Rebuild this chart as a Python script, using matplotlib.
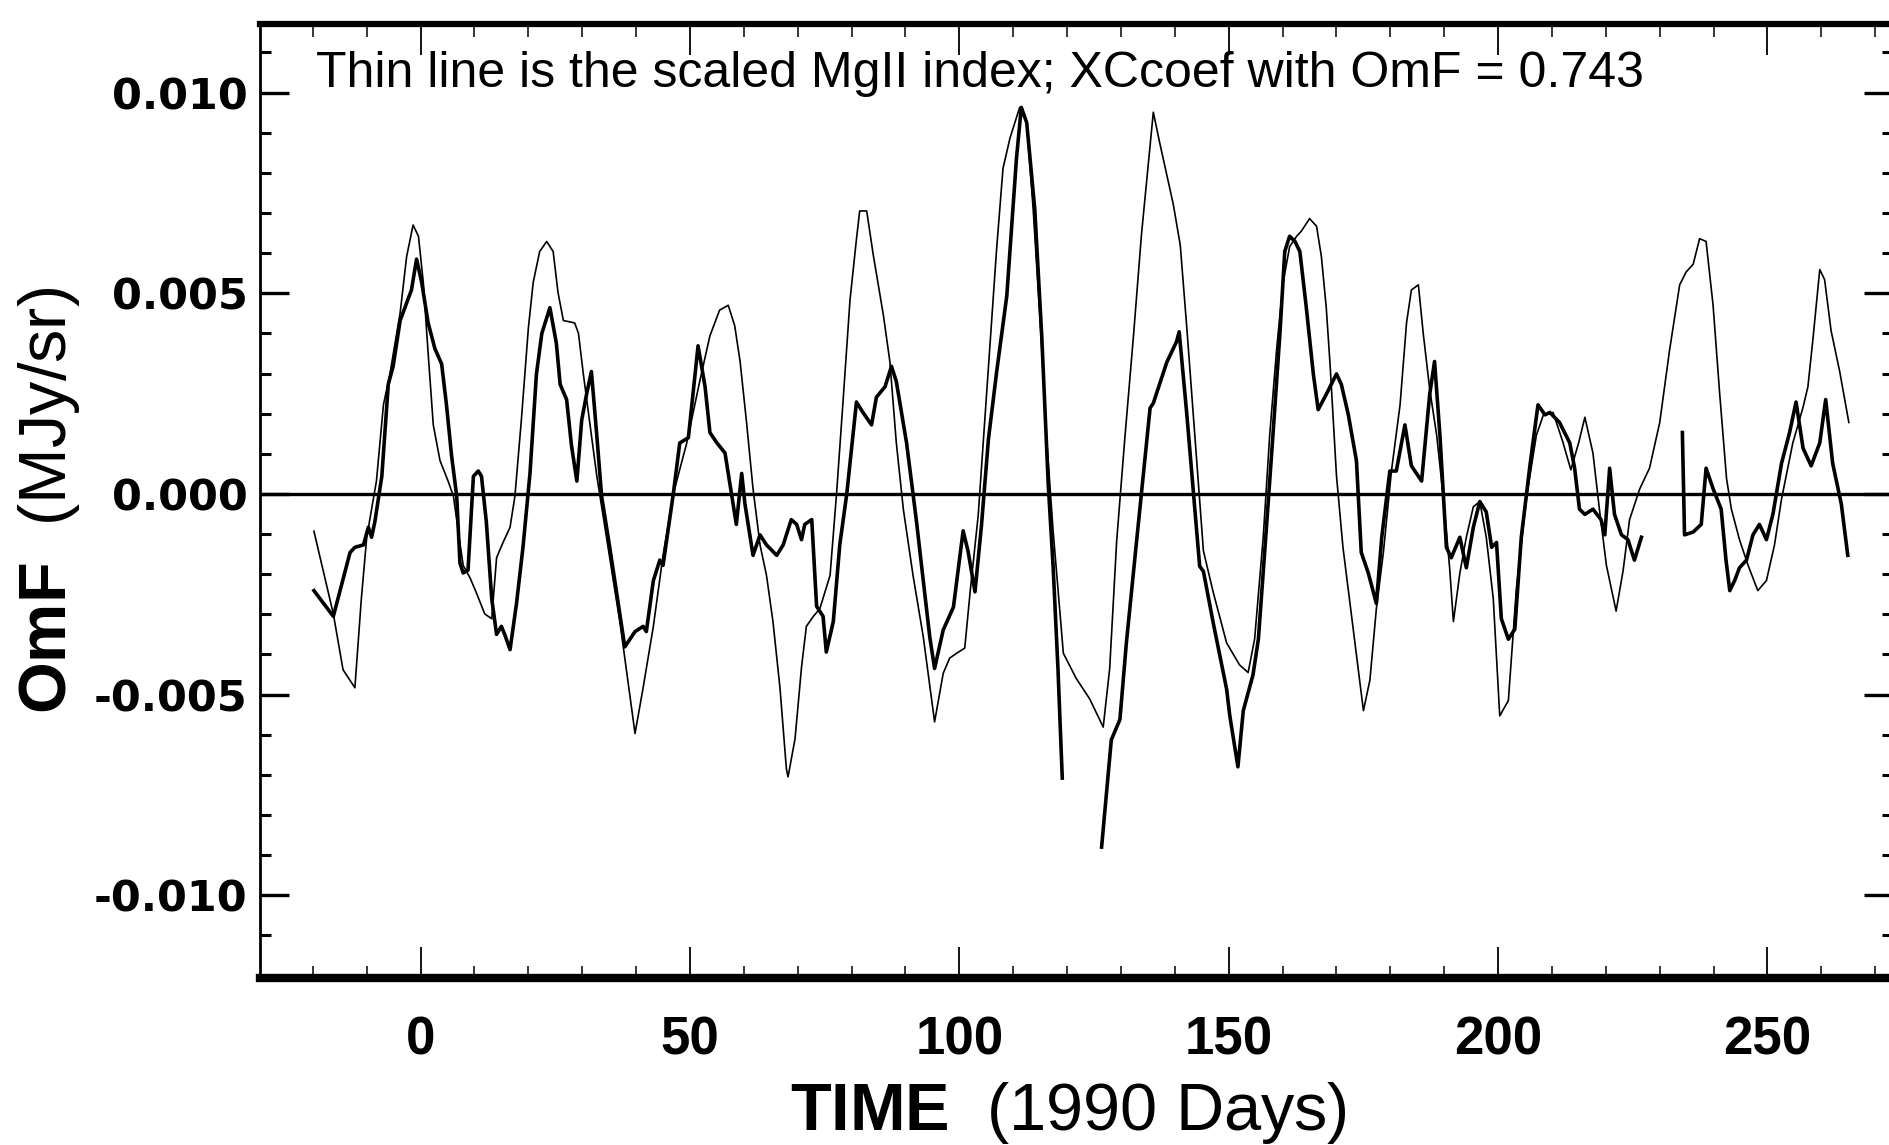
import numpy as np
import matplotlib
matplotlib.use('Agg')
import matplotlib.pyplot as plt
from matplotlib import font_manager
from matplotlib.ticker import MultipleLocator

# scaled MgII index (thin line), days of 1990 / MJy/sr * 1e3
mg_days = [-19.8, -16.2, -14.4, -12.2, -11.0, -10.0, -8.2, -6.9, -5.7, -3.8, -2.6, -1.4, -0.4, 0.5, 1.4,
           2.35, 3.6, 5.1, 6.1, 7.0, 7.9, 9.2, 10.4, 11.9, 13.2, 14.1, 15.3, 16.6, 17.5, 18.7, 20.0, 20.9,
           22.1, 23.4, 24.6, 25.5, 26.5, 28.6, 29.3, 30.2, 32.7, 33.6, 35.1, 37.0, 39.8, 41.3, 43.2, 45.0,
           46.9, 49.4, 51.8, 53.7, 55.5, 57.1, 58.3, 59.3, 60.5, 61.7, 63.0, 64.2, 65.4, 66.7, 67.9, 68.2,
           69.5, 70.7, 71.6, 72.9, 74.1, 76.0, 77.2, 78.4, 79.7, 80.9, 81.5, 82.8, 84.0, 85.9, 87.1, 88.3,
           89.6, 91.4, 93.3, 95.4, 97.0, 98.2, 99.5, 101.0, 102.0, 103.5, 105.0, 106.9, 108.1, 109.4, 111.2,
           112.5, 113.7, 115.0, 116.2, 117.4, 119.3, 121.7, 124.2, 126.7, 127.9, 129.2, 130.7, 132.3, 133.8,
           136.0, 137.2, 139.7, 141.0, 142.2, 143.4, 144.6, 145.3, 147.1, 149.6, 152.0, 153.6, 154.8, 156.4,
           157.6, 158.9, 160.1, 161.3, 162.6, 163.5, 165.0, 166.3, 167.2, 168.1, 168.8, 170.0, 171.2, 173.1,
           175.0, 176.2, 177.4, 178.7, 180.2, 181.8, 183.0, 183.9, 185.2, 186.1, 187.3, 188.6, 189.8, 191.0,
           191.7, 192.9, 194.1, 195.4, 196.6, 197.8, 199.1, 200.3, 201.9, 203.4, 205.3, 207.1, 208.4, 210.2,
           212.0, 213.5, 215.0, 216.1, 217.6, 218.8, 220.1, 221.9, 223.2, 224.4, 226.3, 228.1, 230.0, 231.8,
           233.7, 234.9, 236.2, 237.4, 238.6, 239.9, 241.1, 242.4, 243.3, 244.8, 246.4, 248.2, 249.8, 251.3,
           252.6, 254.7, 256.6, 257.5, 258.4, 259.7, 260.6, 261.8, 263.4, 265.1]
mg_vals = [-0.93, -2.99, -4.38, -4.83, -2.61, -1.08, 0.32, 2.22, 2.99, 4.51, 5.91, 6.70, 6.42, 5.27, 3.50,
           1.72, 0.83, 0.32, -0.06, -0.95, -1.78, -2.10, -2.48, -2.99, -3.11, -1.59, -1.21, -0.83, -0.06, 1.84,
           4.13, 5.27, 6.04, 6.29, 6.04, 5.02, 4.32, 4.26, 4.00, 2.99, 0.45, -0.32, -1.59, -3.20, -5.97, -4.83,
           -3.30, -1.53, 0.0, 1.27, 2.80, 3.94, 4.58, 4.70, 4.19, 3.30, 1.78, 0.13, -1.27, -2.03, -3.18, -4.83,
           -6.86, -7.05, -6.10, -4.32, -3.30, -3.05, -2.86, -2.03, 0.0, 2.29, 4.83, 6.35, 7.05, 7.05, 5.97,
           4.45, 3.30, 1.27, -0.38, -2.03, -3.56, -5.68, -4.47, -4.09, -3.97, -3.84, -2.44, -0.53, 2.39, 6.08,
           8.11, 8.87, 9.63, 9.25, 7.09, 4.30, 1.37, -0.92, -3.97, -4.60, -5.11, -5.81, -4.35, -1.17, 1.37,
           3.91, 6.46, 9.51, 8.74, 7.22, 6.20, 4.17, 2.01, -0.15, -1.42, -2.44, -3.71, -4.26, -4.45, -3.62,
           -1.08, 1.46, 3.62, 5.27, 6.16, 6.42, 6.55, 6.86, 6.67, 5.91, 4.64, 3.24, 0.45, -1.33, -3.37, -5.40,
           -4.64, -2.86, -1.46, 0.57, 2.22, 4.26, 5.08, 5.21, 4.00, 2.61, 1.46, -0.06, -1.84, -3.18, -1.97,
           -1.08, -0.32, -0.19, -1.08, -2.61, -5.53, -5.15, -2.35, -0.06, 1.46, 1.97, 2.03, 1.30, 0.60, 1.30,
           1.91, 1.02, -0.38, -1.78, -2.92, -1.91, -0.64, 0.13, 0.64, 1.78, 3.56, 5.21, 5.53, 5.72, 6.36,
           6.29, 4.70, 2.54, 0.38, -0.38, -1.14, -1.78, -2.41, -2.16, -1.27, -0.13, 1.27, 2.16, 2.67, 3.81,
           5.59, 5.34, 4.07, 3.05, 1.78]

# OmF (thick line); nan marks the gaps in the record
omf_days = [-19.8, -16.2, -13.1, -12.2, -10.6, -9.7, -9.1, -8.5, -7.2, -6.0, -5.1, -3.8, -1.7, -0.75, 0.2,
            1.4, 2.65, 3.9, 4.8, 5.75, 6.7, 7.3, 7.9, 8.8, 9.8, 10.7, 11.3, 12.2, 13.2, 14.1, 15.0, 15.6,
            16.6, 17.8, 19.0, 20.3, 21.5, 22.5, 24.0, 25.2, 25.9, 27.1, 28.0, 29.0, 29.9, 30.8, 31.7, 32.7,
            33.6, 35.1, 37.9, 39.8, 41.3, 41.9, 43.2, 44.4, 45.0, 46.9, 48.1, 49.7, 51.5, 52.8, 53.7, 55.0,
            56.5, 58.0, 58.6, 59.6, 60.2, 61.7, 63.0, 64.2, 66.1, 67.3, 68.8, 69.8, 70.7, 71.3, 72.6, 73.5,
            74.7, 75.3, 76.6, 77.8, 79.1, 80.9, 82.1, 83.7, 84.6, 86.2, 87.4, 88.3, 90.2, 92.0, 94.5, 95.4,
            97.0, 98.9, 100.7, 101.6, 102.9, 104.1, 105.4, 106.9, 108.8, 110.6, 111.5, 112.5, 114.0, 115.3,
            116.5, 117.4, 118.3, 119.1, 122.0, 126.4, 128.2, 129.8, 131.0, 132.9, 135.4, 136.0, 138.5, 140.3,
            140.8, 142.2, 143.4, 144.6, 145.3, 147.1, 149.6, 150.2, 151.7, 152.7, 154.5, 155.5, 157.0, 158.2,
            159.5, 160.4, 161.3, 162.3, 163.2, 164.4, 165.7, 166.6, 168.1, 170.0, 170.9, 172.2, 173.7, 174.6,
            175.9, 177.4, 178.4, 179.9, 181.1, 182.7, 183.9, 185.8, 187.3, 188.2, 189.2, 190.4, 191.3, 192.9,
            194.1, 195.4, 196.6, 197.8, 198.8, 199.7, 200.6, 201.9, 203.1, 204.3, 205.9, 207.4, 208.7, 209.6,
            211.4, 213.3, 214.2, 215.1, 216.1, 217.6, 219.1, 219.8, 220.7, 221.6, 222.9, 224.1, 225.3, 226.6,
            230.0, 234.2, 234.6, 236.2, 237.7, 238.6, 239.9, 241.4, 242.3, 243.0, 243.9, 244.8, 246.1, 247.3,
            248.5, 249.8, 251.0, 252.6, 254.1, 255.3, 256.6, 258.1, 259.7, 260.8, 262.1, 263.7, 264.9]
omf_vals = [-2.41, -3.05, -1.46, -1.33, -1.27, -0.83, -1.08, -0.70, 0.44, 2.73, 3.18, 4.32, 5.08, 5.85, 5.27,
            4.26, 3.62, 3.24, 2.22, 0.95, -0.06, -1.72, -1.97, -1.90, 0.44, 0.57, 0.44, -0.70, -2.61, -3.50,
            -3.30, -3.50, -3.88, -2.73, -1.33, 0.51, 2.99, 4.00, 4.64, 3.75, 2.73, 2.35, 1.21, 0.32, 1.84,
            2.48, 3.05, 1.46, -0.06, -1.33, -3.81, -3.43, -3.30, -3.43, -2.16, -1.65, -1.78, 0.0, 1.27, 1.40,
            3.69, 2.67, 1.53, 1.27, 1.02, -0.25, -0.76, 0.51, -0.25, -1.53, -1.02, -1.27, -1.53, -1.27, -0.64,
            -0.76, -1.14, -0.76, -0.64, -2.80, -3.05, -3.94, -3.18, -1.27, 0.0, 2.29, 2.03, 1.72, 2.41, 2.67,
            3.18, 2.80, 1.27, -0.64, -3.56, -4.35, -3.39, -2.82, -0.92, -1.42, -2.44, -0.79, 1.37, 3.02, 4.93,
            8.36, 9.63, 9.25, 7.09, 3.91, 0.23, -1.80, -4.35, -7.08, np.nan, -8.80, -6.13, -5.62, -3.71, -1.17,
            2.14, 2.26, 3.28, 3.79, 4.04, 2.01, 0.10, -1.80, -1.93, -3.20, -4.86, -5.53, -6.80, -5.40, -4.51,
            -3.62, -0.83, 1.46, 4.00, 6.04, 6.42, 6.29, 6.04, 4.64, 2.99, 2.10, 2.48, 2.99, 2.73, 1.97, 0.83,
            -1.46, -1.97, -2.73, -1.08, 0.57, 0.57, 1.72, 0.70, 0.32, 2.48, 3.30, 1.46, -1.33, -1.59, -1.08,
            -1.84, -0.83, -0.19, -0.45, -1.33, -1.21, -3.11, -3.62, -3.37, -1.08, 0.70, 2.22, 1.97, 2.03, 1.78,
            1.27, 0.64, -0.38, -0.51, -0.38, -0.64, -1.02, 0.64, -0.51, -1.02, -1.14, -1.65, -1.08, np.nan,
            1.53, -1.02, -0.95, -0.76, 0.64, 0.13, -0.38, -1.65, -2.41, -2.16, -1.84, -1.65, -1.02, -0.76,
            -1.14, -0.51, 0.76, 1.53, 2.29, 1.14, 0.70, 1.27, 2.35, 0.76, -0.25, -1.53]

note = 'Thin line is the scaled MgII index; XCcoef with OmF = 0.743'

names = {f.name for f in font_manager.fontManager.ttflist}
narrow = 'Liberation Sans Narrow' if 'Liberation Sans Narrow' in names else 'Liberation Sans'

plt.rcParams['mathtext.fontset'] = 'custom'
plt.rcParams['mathtext.rm'] = 'Liberation Sans'
plt.rcParams['mathtext.bf'] = 'Liberation Sans:bold'

fig = plt.figure(figsize=(18.9, 11.45), dpi=100)
ax = fig.add_axes([0.1376, 0.1459, 0.8640, 0.8332])

ax.axhline(0, color='black', lw=2.4, zorder=1)
ax.plot(mg_days, np.array(mg_vals) * 1e-3, color='black', lw=1.2, zorder=2)
ax.plot(omf_days, np.array(omf_vals) * 1e-3, color='black', lw=2.6, zorder=3)

ax.set_xlim(-29.8, 273.3)
ax.set_ylim(-0.01206, 0.01171)

ax.xaxis.set_major_locator(MultipleLocator(50))
ax.xaxis.set_minor_locator(MultipleLocator(10))
ax.yaxis.set_major_locator(MultipleLocator(0.005))
ax.yaxis.set_minor_locator(MultipleLocator(0.001))
ax.yaxis.set_major_formatter(plt.FuncFormatter(lambda v, p: '%.3f' % v if abs(v) > 1e-9 else '0.000'))

ax.tick_params(axis='both', which='both', direction='in', top=True, right=True)
ax.tick_params(axis='y', which='major', length=21, width=2.4, pad=9, labelsize=31)
ax.tick_params(axis='y', which='minor', length=8, width=2.2)
ax.tick_params(axis='x', which='major', length=22, width=1.3, pad=27, labelsize=38)
ax.tick_params(axis='x', which='minor', length=9, width=1.1)

for lab in ax.get_yticklabels():
    lab.set_fontweight('bold')
    lab.set_family('DejaVu Sans')
for lab in ax.get_xticklabels():
    lab.set_fontweight('bold')
    lab.set_family(narrow)

ax.spines['top'].set_linewidth(4.5)
ax.spines['bottom'].set_linewidth(6)
ax.spines['left'].set_linewidth(2)
ax.spines['right'].set_linewidth(2)

ax.set_xlabel(r'$\mathbf{TIME}$  (1990 Days)', fontsize=48, family='Liberation Sans')
ax.xaxis.set_label_coords(0.495, -0.107)
ax.set_ylabel(r'$\mathbf{OmF}$  (MJy/sr)', fontsize=48, family='Liberation Sans')
ax.yaxis.set_label_coords(-0.109, 0.5)

ax.text(0.034, 0.934, note, transform=ax.transAxes, fontsize=36,
        family='Liberation Sans', va='baseline', ha='left')

fig.savefig('out.png', dpi=100, facecolor='white')
